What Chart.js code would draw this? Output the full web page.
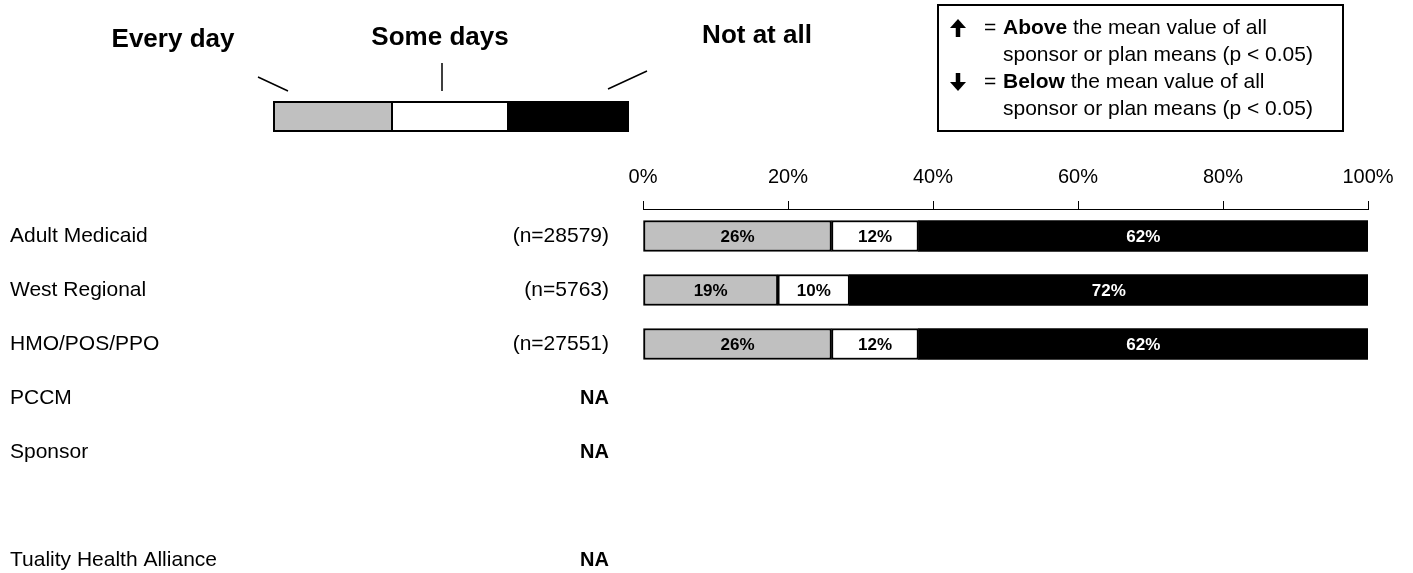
<!DOCTYPE html>
<html>
<head>
<meta charset="utf-8">
<script src="https://cdn.jsdelivr.net/npm/chart.js@4/dist/chart.umd.min.js"></script>
<style>
  html, body { margin: 0; padding: 0; background: #fff; overflow: hidden; }
  #wrap { width: 1413px; height: 600px; }
</style>
</head>
<body>
<div id="wrap"><canvas id="chart"></canvas></div>
<script>
var categories = ["Adult Medicaid", "West Regional", "HMO/POS/PPO", "PCCM", "Sponsor", "", "Tuality Health Alliance"];
var nLabels = ["(n=28579)", "(n=5763)", "(n=27551)", "NA", "NA", "", "NA"];
var seriesNames = ["Every day", "Some days", "Not at all"];
var everyDay = [26, 18.6, 26, null, null, null, null];
var someDays = [12, 9.9, 12, null, null, null, null];
var notAtAll = [62, 71.5, 62, null, null, null, null];
var tickValues = [0, 20, 40, 60, 80, 100];

var FONT = "Arial, 'Liberation Sans', sans-serif";
Chart.defaults.font.family = FONT;
Chart.defaults.color = "#000";

// text, labels and the key drawn on top of the chart
var decorations = {
  id: "decorations",
  afterDraw: function (chart) {
    var ctx = chart.ctx;
    var y = chart.scales.y;
    ctx.save();

    // row labels
    ctx.textBaseline = "middle";
    for (var i = 0; i < categories.length; i++) {
      var py = y.getPixelForValue(i);
      ctx.fillStyle = "#000";
      ctx.textAlign = "left";
      ctx.font = "21px " + FONT;
      ctx.fillText(categories[i], 10, py);
      ctx.textAlign = "right";
      ctx.font = (nLabels[i] == "NA" ? "bold 20px " : "21px ") + FONT;
      ctx.fillText(nLabels[i], 609, py);
    }

    // values inside the bars
    ctx.textAlign = "center";
    ctx.font = "bold 17px " + FONT;
    chart.data.datasets.forEach(function (ds, d) {
      var meta = chart.getDatasetMeta(d);
      meta.data.forEach(function (bar, i) {
        if (ds.data[i] == null) return;
        ctx.fillStyle = d == 2 ? "#fff" : "#000";
        ctx.fillText(Math.round(ds.data[i]) + "%", (bar.x + bar.base) / 2, bar.y + 1);
      });
    });

    // key at top left
    ctx.font = "bold 26px " + FONT;
    ctx.fillStyle = "#000";
    ctx.fillText(seriesNames[0], 173, 40);
    ctx.fillText(seriesNames[1], 440, 38);
    ctx.fillText(seriesNames[2], 757, 36);
    ctx.strokeStyle = "#000";
    ctx.lineWidth = 1.5;
    ctx.beginPath();
    ctx.moveTo(258, 77); ctx.lineTo(288, 91);
    ctx.moveTo(442, 63); ctx.lineTo(442, 91);
    ctx.moveTo(608, 89); ctx.lineTo(647, 71);
    ctx.stroke();
    var kx = [274, 392, 508, 628];
    var kc = ["#c0c0c0", "#fff", "#000"];
    for (var k = 0; k < 3; k++) {
      ctx.fillStyle = kc[k];
      ctx.fillRect(kx[k], 102, kx[k + 1] - kx[k], 29);
      ctx.lineWidth = 2;
      ctx.strokeRect(kx[k], 102, kx[k + 1] - kx[k], 29);
    }

    // significance box at top right
    ctx.lineWidth = 2;
    ctx.strokeRect(938, 5, 405, 126);
    function arrow(cx, top, bottom, up) {
      var tip = up ? top : bottom;
      var dir = up ? 1 : -1;
      ctx.fillStyle = "#000";
      ctx.beginPath();
      ctx.moveTo(cx, tip);
      ctx.lineTo(cx - 8, tip + dir * 9);
      ctx.lineTo(cx + 8, tip + dir * 9);
      ctx.closePath();
      ctx.fill();
      ctx.lineWidth = 4.5;
      ctx.beginPath();
      ctx.moveTo(cx, tip + dir * 6);
      ctx.lineTo(cx, up ? bottom : top);
      ctx.stroke();
    }
    var lines = [[28, "Above"], [82, "Below"]];
    lines.forEach(function (ln, j) {
      arrow(958, ln[0] - 9, ln[0] + 9, j == 0);
      ctx.fillStyle = "#000";
      ctx.textAlign = "left";
      ctx.font = "21px " + FONT;
      ctx.fillText("=", 984, ln[0]);
      ctx.font = "bold 21px " + FONT;
      ctx.fillText(ln[1], 1003, ln[0]);
      var w = ctx.measureText(ln[1]).width;
      ctx.font = "21px " + FONT;
      ctx.fillText(" the mean value of all", 1003 + w, ln[0]);
      ctx.fillText("sponsor or plan means (p < 0.05)", 1003, ln[0] + 27);
    });
    ctx.restore();
  },
};

new Chart(document.getElementById("chart"), {
  type: "bar",
  data: {
    labels: categories,
    datasets: [
      {
        label: seriesNames[0],
        data: everyDay,
        backgroundColor: "#c0c0c0",
        borderColor: "#000",
        borderWidth: 2,
        borderSkipped: false,
        barThickness: 31,
      },
      {
        label: seriesNames[1],
        data: someDays,
        backgroundColor: "#fff",
        borderColor: "#000",
        borderWidth: 2,
        borderSkipped: false,
        barThickness: 31,
      },
      {
        label: seriesNames[2],
        data: notAtAll,
        backgroundColor: "#000",
        borderColor: "#000",
        borderWidth: 0,
        barThickness: 31,
      },
    ],
  },
  options: {
    indexAxis: "y",
    responsive: true,
    maintainAspectRatio: false,
    animation: false,
    layout: {
      padding: { left: 643, right: 45, top: 149, bottom: 13 },
    },
    plugins: {
      legend: { display: false },
      tooltip: { enabled: false },
    },
    scales: {
      x: {
        position: "top",
        stacked: true,
        min: 0,
        max: 100,
        afterFit: function (scale) {
          scale.height = 60;
        },
        afterBuildTicks: function (scale) {
          scale.ticks = tickValues.map(function (v) { return { value: v }; });
        },
        grid: {
          display: true,
          drawOnChartArea: false,
          drawTicks: true,
          tickLength: 8,
          color: "#000",
        },
        border: { display: true, color: "#000", width: 1 },
        ticks: {
          padding: 12,
          color: "#000",
          font: { size: 20 },
          maxRotation: 0,
          callback: function (value) {
            return value + "%";
          },
        },
      },
      y: {
        stacked: true,
        display: false,
        offset: true,
      },
    },
  },
  plugins: [decorations],
});
</script>
</body>
</html>
